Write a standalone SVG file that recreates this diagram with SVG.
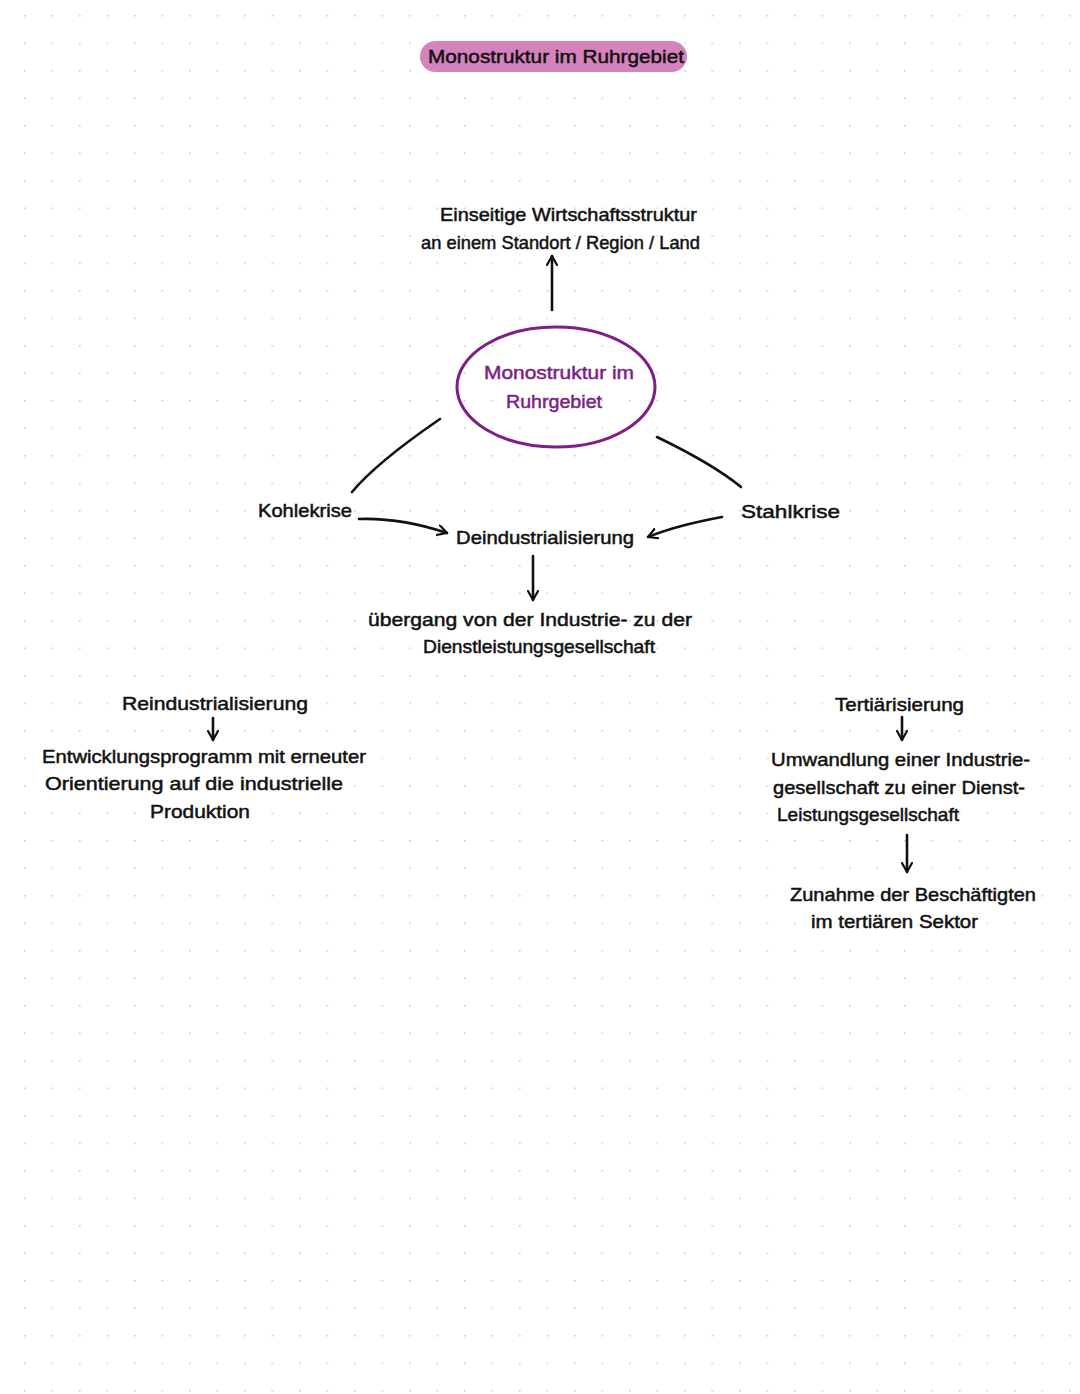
<svg xmlns="http://www.w3.org/2000/svg" width="1080" height="1394" viewBox="0 0 1080 1394">
<defs>
<pattern id="dots" x="24" y="15" width="27.5" height="27.5" patternUnits="userSpaceOnUse">
<circle cx="0.8" cy="0.8" r="1" fill="#cfcfcf"/>
</pattern>
<marker id="open" viewBox="0 0 12 12" refX="10" refY="6" markerWidth="12" markerHeight="12" markerUnits="userSpaceOnUse" orient="auto">
<path d="M1,1 L10,6 L1,11" fill="none" stroke="#111" stroke-width="2.2" stroke-linecap="round" stroke-linejoin="round"/>
</marker>
</defs>
<style>
.t{font-family:"Liberation Sans","DejaVu Sans",sans-serif;font-size:19px;fill:#111;stroke:#111;stroke-width:0.5;}
.p{fill:#7d1f86;stroke:#7d1f86;}
.c{fill:none;stroke:#111;stroke-width:2.6;stroke-linecap:round;}
</style>
<rect x="0" y="0" width="1080" height="1394" fill="#fff"/>
<rect x="0" y="0" width="1080" height="1394" fill="url(#dots)"/>

<g id="title">
<rect x="420" y="41" width="267" height="31" rx="15.5" fill="#d683bd"/>
<text class="t" x="428" y="63" textLength="256" lengthAdjust="spacingAndGlyphs">Monostruktur im Ruhrgebiet</text>
</g>

<g id="definition">
<text class="t" x="440" y="221" textLength="257" lengthAdjust="spacingAndGlyphs">Einseitige Wirtschaftsstruktur</text>
<text class="t" x="421" y="249" textLength="279" lengthAdjust="spacingAndGlyphs">an einem Standort / Region / Land</text>
</g>

<g id="center">
<ellipse cx="556" cy="387" rx="99" ry="60" fill="none" stroke="#7d1f86" stroke-width="3"/>
<text class="t p" x="484" y="379" textLength="150" lengthAdjust="spacingAndGlyphs">Monostruktur im</text>
<text class="t p" x="506" y="408" textLength="96" lengthAdjust="spacingAndGlyphs">Ruhrgebiet</text>
</g>

<g id="kohlekrise">
<text class="t" x="258" y="517" textLength="94" lengthAdjust="spacingAndGlyphs">Kohlekrise</text>
</g>
<g id="stahlkrise">
<text class="t" x="741" y="518" textLength="99" lengthAdjust="spacingAndGlyphs">Stahlkrise</text>
</g>
<g id="deindustrialisierung">
<text class="t" x="456" y="544" textLength="178" lengthAdjust="spacingAndGlyphs">Deindustrialisierung</text>
</g>
<g id="uebergang">
<text class="t" x="368" y="626" textLength="324" lengthAdjust="spacingAndGlyphs">übergang von der Industrie- zu der</text>
<text class="t" x="423" y="653" textLength="232" lengthAdjust="spacingAndGlyphs">Dienstleistungsgesellschaft</text>
</g>
<g id="reindustrialisierung">
<text class="t" x="122" y="710" textLength="186" lengthAdjust="spacingAndGlyphs">Reindustrialisierung</text>
</g>
<g id="entwicklungsprogramm">
<text class="t" x="42" y="763" textLength="324" lengthAdjust="spacingAndGlyphs">Entwicklungsprogramm mit erneuter</text>
<text class="t" x="45" y="790" textLength="298" lengthAdjust="spacingAndGlyphs">Orientierung auf die industrielle</text>
<text class="t" x="150" y="818" textLength="100" lengthAdjust="spacingAndGlyphs">Produktion</text>
</g>
<g id="tertiaerisierung">
<text class="t" x="835" y="711" textLength="129" lengthAdjust="spacingAndGlyphs">Tertiärisierung</text>
</g>
<g id="umwandlung">
<text class="t" x="771" y="766" textLength="259" lengthAdjust="spacingAndGlyphs">Umwandlung einer Industrie-</text>
<text class="t" x="773" y="794" textLength="252" lengthAdjust="spacingAndGlyphs">gesellschaft zu einer Dienst-</text>
<text class="t" x="777" y="821" textLength="182" lengthAdjust="spacingAndGlyphs">Leistungsgesellschaft</text>
</g>
<g id="zunahme">
<text class="t" x="790" y="901" textLength="246" lengthAdjust="spacingAndGlyphs">Zunahme der Beschäftigten</text>
<text class="t" x="811" y="928" textLength="167" lengthAdjust="spacingAndGlyphs">im tertiären Sektor</text>
</g>

<g id="connectors">
<path class="c" d="M552,310 L552,256" marker-end="url(#open)"/>
<path class="c" d="M440,419 C405,443 372,468 352,492"/>
<path class="c" d="M657,437 C690,453 718,468 741,487"/>
<path class="c" d="M359,519 C390,518 420,524 447,533" marker-end="url(#open)"/>
<path class="c" d="M722,517 C695,522 670,528 648,537" marker-end="url(#open)"/>
<path class="c" d="M533,556 L533,600" marker-end="url(#open)"/>
<path class="c" d="M213,718 L213,740" marker-end="url(#open)"/>
<path class="c" d="M902,717 L902,740" marker-end="url(#open)"/>
<path class="c" d="M907,835 L907,872" marker-end="url(#open)"/>
</g>
</svg>
